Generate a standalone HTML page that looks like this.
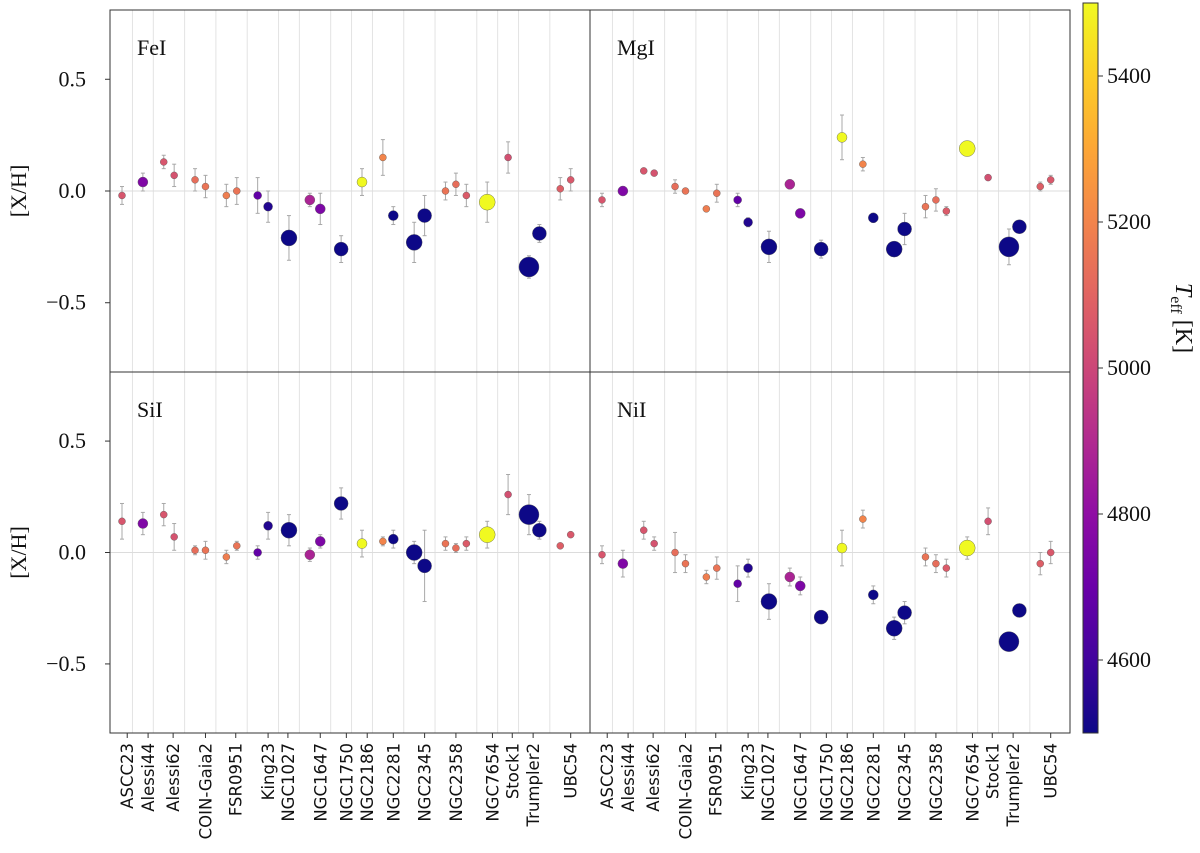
<!DOCTYPE html>
<html><head><meta charset="utf-8"><style>
html,body{margin:0;padding:0;background:#fff;}
svg{display:block;}
text{font-family:"Liberation Serif",serif;}
.xl{font-family:"DejaVu Sans","Liberation Sans",sans-serif;font-size:16.5px;}
</style></head><body>
<svg id="chart" width="1200" height="853" viewBox="0 0 1200 853" xmlns="http://www.w3.org/2000/svg">
<defs>
<linearGradient id="plasma" x1="0" y1="1" x2="0" y2="0">
<stop offset="0" stop-color="#0d0887"/><stop offset="0.1" stop-color="#41049d"/><stop offset="0.2" stop-color="#6a00a8"/><stop offset="0.3" stop-color="#8f0da4"/><stop offset="0.4" stop-color="#b12a90"/><stop offset="0.5" stop-color="#cc4778"/><stop offset="0.6" stop-color="#e16462"/><stop offset="0.7" stop-color="#f2844b"/><stop offset="0.8" stop-color="#fca636"/><stop offset="0.9" stop-color="#fcce25"/><stop offset="1" stop-color="#f0f921"/>
</linearGradient>
</defs>
<g id="plots"></g>
</svg>
<script>
const clusters=["ASCC23","Alessi44","Alessi62","COIN-Gaia2","FSR0951","King23","NGC1027","NGC1647","NGC1750","NGC2186","NGC2281","NGC2345","NGC2358","NGC7654","Stock1","Trumpler2","UBC54"];
const clusterTickPos=[0.5,2.5,4.9,8,10.9,14,15.9,19,21.5,23.5,26,29,32,35.5,37.4,39.4,43];
const separators=[1,3,6,9,12,15,17,20,22,24,27,30,34,36,38,41];
const starIndex=[0,2,4,5,7,8,10,11,13,14,16,18,19,21,23,25,26,28,29,31,32,33,35,37,39,40,42,43];
const teff=[5050,4760,5050,5040,5130,5150,5180,5150,4680,4540,4500,4880,4750,4500,5500,5200,4500,4500,4500,5150,5130,5070,5500,5030,4500,4500,5080,5060];
const markerSize=[3.5,5,3.5,3.5,3.5,3.5,3.5,3.5,4,4.5,8,5,5,7,5,3.5,5,8,7,3.5,3.5,3.5,8,3.5,10,7,3.5,3.5];
const feVal=[-0.02,0.04,0.13,0.07,0.05,0.02,-0.02,0.0,-0.02,-0.07,-0.21,-0.04,-0.08,-0.26,0.04,0.15,-0.11,-0.23,-0.11,0.0,0.03,-0.02,-0.05,0.15,-0.34,-0.19,0.01,0.05];
const feErr=[0.04,0.04,0.03,0.05,0.05,0.05,0.05,0.06,0.08,0.07,0.10,0.03,0.07,0.06,0.06,0.08,0.04,0.09,0.09,0.04,0.05,0.05,0.09,0.07,0.05,0.04,0.05,0.05];
const mgVal=[-0.04,0.0,0.09,0.08,0.02,0.0,-0.08,-0.01,-0.04,-0.14,-0.25,0.03,-0.10,-0.26,0.24,0.12,-0.12,-0.26,-0.17,-0.07,-0.04,-0.09,0.19,0.06,-0.25,-0.16,0.02,0.05];
const mgErr=[0.03,0.01,0.01,0.01,0.03,0.01,0.01,0.04,0.03,0.02,0.07,0.02,0.02,0.04,0.10,0.03,0.02,0.02,0.07,0.05,0.05,0.02,0.0,0.0,0.08,0.02,0.02,0.02];
const siVal=[0.14,0.13,0.17,0.07,0.01,0.01,-0.02,0.03,0.0,0.12,0.10,-0.01,0.05,0.22,0.04,0.05,0.06,0.0,-0.06,0.04,0.02,0.04,0.08,0.26,0.17,0.10,0.03,0.08];
const siErr=[0.08,0.05,0.05,0.06,0.02,0.04,0.03,0.02,0.03,0.06,0.07,0.03,0.03,0.07,0.06,0.02,0.04,0.05,0.16,0.03,0.02,0.03,0.06,0.09,0.09,0.04,0.0,0.0];
const niVal=[-0.01,-0.05,0.10,0.04,0.0,-0.05,-0.11,-0.07,-0.14,-0.07,-0.22,-0.11,-0.15,-0.29,0.02,0.15,-0.19,-0.34,-0.27,-0.02,-0.05,-0.07,0.02,0.14,-0.40,-0.26,-0.05,0.0];
const niErr=[0.04,0.06,0.04,0.03,0.09,0.04,0.03,0.05,0.08,0.04,0.08,0.04,0.04,0.03,0.08,0.04,0.04,0.05,0.05,0.04,0.04,0.04,0.05,0.06,0.01,0.0,0.05,0.05];
const yTicks=[0.5,0.0,-0.5];
const yTickLabels=["0.5","0.0","\u22120.5"];
const cbTicks=[4600,4800,5000,5200,5400];

const NS="http://www.w3.org/2000/svg";
const root=document.getElementById('plots');
function mk(tag,attrs,parent){const e=document.createElementNS(NS,tag);for(const k in attrs)e.setAttribute(k,attrs[k]);(parent||root).appendChild(e);return e;}
const stops=[[0,13,8,135],[0.1,65,4,157],[0.2,106,0,168],[0.3,143,13,164],[0.4,177,42,144],[0.5,204,71,120],[0.6,225,100,98],[0.7,242,132,75],[0.8,252,166,54],[0.9,252,206,37],[1,240,249,33]];
function plasma(t){t=Math.max(0,Math.min(1,t));for(let i=1;i<stops.length;i++){if(t<=stops[i][0]){const a=stops[i-1],b=stops[i],f=(t-a[0])/(b[0]-a[0]);return`rgb(${Math.round(a[1]+f*(b[1]-a[1]))},${Math.round(a[2]+f*(b[2]-a[2]))},${Math.round(a[3]+f*(b[3]-a[3]))})`;}}return'rgb(240,249,33)';}
const TMIN=4500,TMAX=5500;
const X0=-1.15,X1=44.85,YMIN=-0.81,YMAX=0.81;
const panels=[
 {name:"FeI",slug:"fei",val:feVal,err:feErr,x:110,y:10,w:480,h:362,left:true,bottom:false},
 {name:"MgI",slug:"mgi",val:mgVal,err:mgErr,x:590,y:10,w:480,h:362,left:false,bottom:false},
 {name:"SiI",slug:"sii",val:siVal,err:siErr,x:110,y:372,w:480,h:361,left:true,bottom:true},
 {name:"NiI",slug:"nii",val:niVal,err:niErr,x:590,y:372,w:480,h:361,left:false,bottom:true}];
panels.forEach(p=>{
 const g=mk('g',{});
 
 
 const sx=v=>p.x+(v-X0)/(X1-X0)*p.w;
 const sy=v=>p.y+(YMAX-v)/(YMAX-YMIN)*p.h;
 separators.forEach(s=>{const l=mk('line',{x1:sx(s),x2:sx(s),y1:p.y,y2:p.y+p.h,stroke:'#e3e3e3','stroke-width':1},g);
  
  });
 const z=mk('line',{x1:p.x,x2:p.x+p.w,y1:sy(0),y2:sy(0),stroke:'#dcdcdc','stroke-width':1},g);
 
 
 starIndex.forEach((si,i)=>{
  const e=p.err[i];if(e<=0)return;
  const eb=mk('g',{stroke:'#a8a8a8','stroke-width':1},g);
  
  
  const cx=sx(si);
  mk('line',{x1:cx,x2:cx,y1:sy(p.val[i]+e),y2:sy(p.val[i]-e)},eb);
  mk('line',{x1:cx-2,x2:cx+2,y1:sy(p.val[i]+e),y2:sy(p.val[i]+e)},eb);
  mk('line',{x1:cx-2,x2:cx+2,y1:sy(p.val[i]-e),y2:sy(p.val[i]-e)},eb);
 });
 starIndex.forEach((si,i)=>{
  const c=mk('circle',{cx:sx(si),cy:sy(p.val[i]),r:markerSize[i],fill:plasma((teff[i]-TMIN)/(TMAX-TMIN)),stroke:'#555','stroke-width':0.4},g);
  
  
 });
 const fr=mk('rect',{x:p.x,y:p.y,width:p.w,height:p.h,fill:'none',stroke:'#333','stroke-width':1},g);
 
 
 const lab=mk('text',{x:p.x+27,y:p.y+45,'font-size':22,fill:'#111'},g);lab.textContent=p.name;
 
 
 if(p.left){
  yTicks.forEach((t,k)=>{
   mk('line',{x1:p.x-5,x2:p.x,y1:sy(t),y2:sy(t),stroke:'#333'},g);
   const tl=mk('text',{x:p.x-24,y:sy(t)+7,'font-size':22,'text-anchor':'end',fill:'#111'},g);tl.textContent=yTickLabels[k];
   
   
  });
  const yt=mk('text',{x:0,y:0,'font-size':22,'text-anchor':'middle',fill:'#111',transform:`translate(26,${sy(0)}) rotate(-90)`},g);yt.textContent='[X/H]';
  
  
 }
 if(p.bottom){
  clusterTickPos.forEach((t,k)=>{
   const tx=sx(t);
   mk('line',{x1:tx,x2:tx,y1:p.y+p.h,y2:p.y+p.h+5,stroke:'#333'},g);
   const tl=mk('text',{x:0,y:0,'text-anchor':'end',class:'xl',fill:'#111',transform:`translate(${tx+6},${p.y+p.h+10}) rotate(-90)`},g);tl.textContent=clusters[k];
   
   
  });
 }
});
const cb=mk('g',{});


const CBX=1083,CBY=3,CBW=15,CBH=730;
mk('rect',{x:CBX,y:CBY,width:CBW,height:CBH,fill:'url(#plasma)',stroke:'#333','stroke-width':1},cb);
cbTicks.forEach(t=>{
 const y=CBY+(TMAX-t)/(TMAX-TMIN)*CBH;
 mk('line',{x1:CBX+CBW,x2:CBX+CBW+5,y1:y,y2:y,stroke:'#333'},cb);
 const tl=mk('text',{x:CBX+CBW+9,y:y+7,'font-size':22,fill:'#111'},cb);tl.textContent=t;
 
 
});
const ct=mk('text',{x:0,y:0,'font-size':24,'text-anchor':'middle',fill:'#111',transform:'translate(1176,318) rotate(90)'},cb);
ct.innerHTML='<tspan font-style="italic">T</tspan><tspan font-size="16" dy="5">eff</tspan><tspan dy="-5"> [K]</tspan>';


</script>
</body></html>
